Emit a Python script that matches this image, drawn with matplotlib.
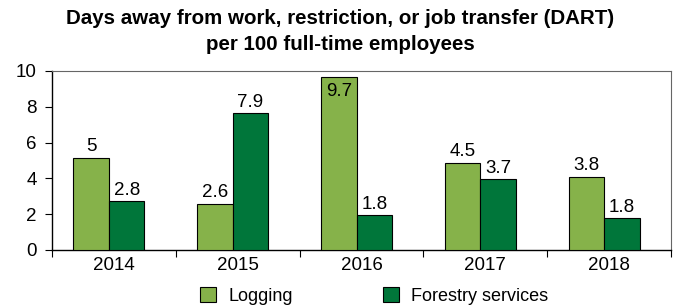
import matplotlib
matplotlib.use("Agg")
import matplotlib.pyplot as plt
import numpy as np
from matplotlib.patches import Patch

plt.rcParams['font.family'] = ['Liberation Sans', 'DejaVu Sans']

years = ["2014", "2015", "2016", "2017", "2018"]
series_names = ["Logging", "Forestry services"]
# bar heights as drawn in the reference
logging_heights = [5.15, 2.57, 9.65, 4.88, 4.10]
forestry_heights = [2.72, 7.64, 1.94, 3.95, 1.77]
# data labels as printed in the reference
logging_labels = ["5", "2.6", "9.7", "4.5", "3.8"]
forestry_labels = ["2.8", "7.9", "1.8", "3.7", "1.8"]
yticks = [0, 2, 4, 6, 8, 10]

c_log = "#86B24A"
c_for = "#00763A"

fig = plt.figure(figsize=(6.74, 3.05), dpi=100)
ax = fig.add_axes([52/674, 1 - 250/305, (671-52)/674, (250-71)/305])

x = np.arange(len(years))
w = 0.287
off = -0.04
ax.bar(x + off - w/2, logging_heights, w, color=c_log, edgecolor="black", linewidth=0.8, zorder=3)
ax.bar(x + off + w/2, forestry_heights, w, color=c_for, edgecolor="black", linewidth=0.8, zorder=3)

fs = 13.5
for i in range(len(years)):
    h = logging_heights[i]
    if h > 9:
        ax.text(x[i] + off - w/2, h - 0.3, logging_labels[i], ha="center", va="top", fontsize=fs, zorder=4)
    else:
        ax.text(x[i] + off - w/2, h + 0.15, logging_labels[i], ha="center", va="bottom", fontsize=fs, zorder=4)
    h2 = forestry_heights[i]
    ax.text(x[i] + off + w/2, h2 + 0.15, forestry_labels[i], ha="center", va="bottom", fontsize=fs, zorder=4)

ax.set_xlim(-0.5, len(years) - 0.5)
ax.set_ylim(0, 10)
ax.set_yticks(yticks)
ax.set_yticklabels([str(t) for t in yticks], fontsize=13.5)
ax.set_xticks(np.arange(len(years) + 1) - 0.5)
ax.set_xticklabels([])
ax.set_xticks(x, minor=True)
ax.set_xticklabels(years, minor=True, fontsize=13.5)
ax.tick_params(axis="x", which="minor", length=0, pad=5)
ax.tick_params(axis="x", which="major", length=5, direction="out", width=0.8)
ax.tick_params(axis="y", length=5, direction="out", width=0.8, pad=6)

for s in ["left", "bottom"]:
    ax.spines[s].set_color("black")
    ax.spines[s].set_linewidth(1.0)
for s in ["top", "right"]:
    ax.spines[s].set_color("#666666")
    ax.spines[s].set_linewidth(0.8)

fig.text(0.505, 1 - 19/305, "Days away from work, restriction, or job transfer (DART)",
         ha="center", va="center", fontsize=14.8, fontweight="bold")
fig.text(0.505, 1 - 45/305, "per 100 full-time employees",
         ha="center", va="center", fontsize=14.8, fontweight="bold")

handles = [Patch(facecolor=c_log, edgecolor="black", linewidth=0.8),
           Patch(facecolor=c_for, edgecolor="black", linewidth=0.8)]
fig.legend(handles, series_names, loc="center", bbox_to_anchor=(374/674, 1 - 296/305),
           ncol=2, frameon=False, fontsize=13, handlelength=0.9, handleheight=0.9,
           columnspacing=5.0, handletextpad=0.65, borderaxespad=0, borderpad=0)

fig.savefig("out.png", dpi=100)
